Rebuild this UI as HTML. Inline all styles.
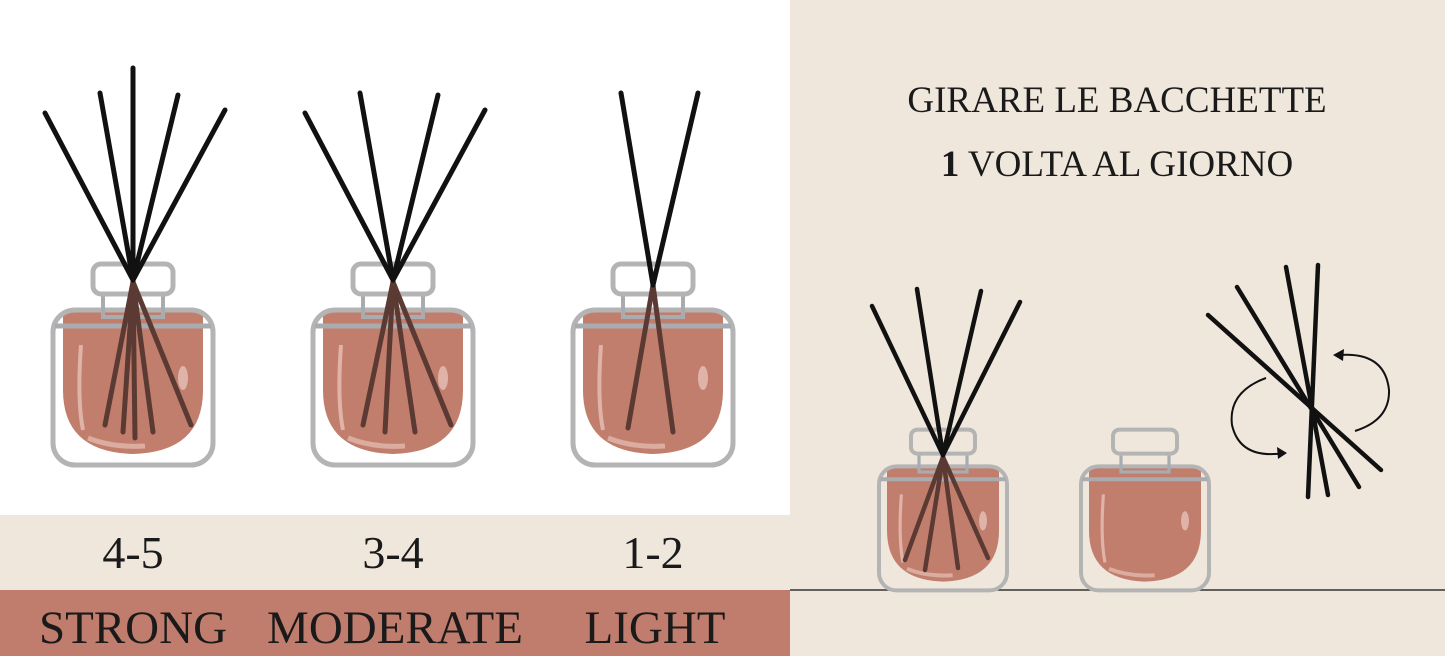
<!DOCTYPE html>
<html><head><meta charset="utf-8"><style>
html,body{margin:0;padding:0;width:1445px;height:656px;overflow:hidden;background:#fff}
svg{display:block}
text{font-family:"Liberation Serif",serif;fill:#1a1a1a}
</style></head><body>
<svg width="1445" height="656" viewBox="0 0 1445 656">
<defs>
<g id="jar">
  <path d="M-70,312 L70,312 L70,390 Q70,452 0,454 Q-70,452 -70,390 Z" fill="#c27e6c"/>
  <path d="M-52,345 Q-56,400 -50,430" stroke="#e6c1b6" stroke-width="4" fill="none" opacity=".8"/>
  <path d="M-45,438 Q-20,448 12,446" stroke="#e6c1b6" stroke-width="5" fill="none" opacity=".7"/>
  <ellipse cx="50" cy="378" rx="5" ry="12" fill="#e6c1b6" opacity=".8"/>
  <rect x="-80" y="310" width="160" height="155" rx="22" fill="none" stroke="#b4b4b4" stroke-width="5"/>
  <line x1="-78" y1="326" x2="78" y2="326" stroke="#a8acb0" stroke-width="5"/>
  <rect x="-30" y="293" width="60" height="24" fill="none" stroke="#a8acb0" stroke-width="4"/>
  <rect x="-40" y="264" width="80" height="30" rx="8" fill="#fff" stroke="#b4b4b4" stroke-width="5"/>
</g>
<g id="jarb">
  <path d="M-70,312 L70,312 L70,390 Q70,452 0,454 Q-70,452 -70,390 Z" fill="#c27e6c"/>
  <path d="M-52,345 Q-56,400 -50,430" stroke="#e6c1b6" stroke-width="4" fill="none" opacity=".8"/>
  <path d="M-45,438 Q-20,448 12,446" stroke="#e6c1b6" stroke-width="5" fill="none" opacity=".7"/>
  <ellipse cx="50" cy="378" rx="5" ry="12" fill="#e6c1b6" opacity=".8"/>
  <rect x="-80" y="310" width="160" height="155" rx="22" fill="none" stroke="#b4b4b4" stroke-width="5"/>
  <line x1="-78" y1="326" x2="78" y2="326" stroke="#a8acb0" stroke-width="5"/>
  <rect x="-30" y="293" width="60" height="24" fill="none" stroke="#a8acb0" stroke-width="4"/>
  <rect x="-40" y="264" width="80" height="30" rx="8" fill="#efe7dc" stroke="#b4b4b4" stroke-width="5"/>
</g>
</defs>
<rect x="0" y="0" width="790" height="515" fill="#fff"/>
<rect x="0" y="515" width="790" height="75" fill="#efe7dc"/>
<rect x="0" y="590" width="790" height="66" fill="#c07c6c"/>
<rect x="790" y="0" width="655" height="656" fill="#efe7dc"/>
<line x1="790" y1="590" x2="1445" y2="590" stroke="#333" stroke-width="1.5"/>

<!-- jar 1 -->
<g transform="translate(133,0)">
  <use href="#jar"/>
  <g stroke="#5a3a33" stroke-width="5" stroke-linecap="round">
    <line x1="0" y1="282" x2="-28" y2="425"/><line x1="0" y1="282" x2="-10" y2="432"/>
    <line x1="0" y1="282" x2="2" y2="438"/><line x1="0" y1="282" x2="20" y2="432"/><line x1="0" y1="282" x2="58" y2="425"/>
  </g>
  <g stroke="#111" stroke-width="5" stroke-linecap="round">
    <line x1="0" y1="280" x2="-88" y2="113"/><line x1="0" y1="280" x2="-33" y2="93"/>
    <line x1="0" y1="280" x2="0" y2="68"/><line x1="0" y1="280" x2="45" y2="95"/><line x1="0" y1="280" x2="92" y2="110"/>
  </g>
</g>
<!-- jar 2 -->
<g transform="translate(393,0)">
  <use href="#jar"/>
  <g stroke="#5a3a33" stroke-width="5" stroke-linecap="round">
    <line x1="0" y1="282" x2="-30" y2="425"/><line x1="0" y1="282" x2="-8" y2="432"/>
    <line x1="0" y1="282" x2="22" y2="432"/><line x1="0" y1="282" x2="58" y2="425"/>
  </g>
  <g stroke="#111" stroke-width="5" stroke-linecap="round">
    <line x1="0" y1="280" x2="-88" y2="113"/><line x1="0" y1="280" x2="-33" y2="93"/>
    <line x1="0" y1="280" x2="45" y2="95"/><line x1="0" y1="280" x2="92" y2="110"/>
  </g>
</g>
<!-- jar 3 -->
<g transform="translate(653,0)">
  <use href="#jar"/>
  <g stroke="#5a3a33" stroke-width="5" stroke-linecap="round">
    <line x1="0" y1="285" x2="-25" y2="428"/><line x1="0" y1="285" x2="20" y2="432"/>
  </g>
  <g stroke="#111" stroke-width="5" stroke-linecap="round">
    <line x1="0" y1="285" x2="-32" y2="93"/><line x1="0" y1="285" x2="45" y2="93"/>
  </g>
</g>
<!-- jar 4 -->
<g transform="translate(943,428) scale(0.8) translate(0,-262)">
  <use href="#jarb"/>
</g>
<g stroke="#5a3a33" stroke-width="4.5" stroke-linecap="round">
  <line x1="943" y1="457" x2="905" y2="560"/><line x1="943" y1="457" x2="925" y2="570"/>
  <line x1="943" y1="457" x2="958" y2="568"/><line x1="943" y1="457" x2="988" y2="558"/>
</g>
<g stroke="#111" stroke-width="4.5" stroke-linecap="round">
  <line x1="943" y1="455" x2="872" y2="306"/><line x1="943" y1="455" x2="917" y2="289"/>
  <line x1="943" y1="455" x2="981" y2="291"/><line x1="943" y1="455" x2="1020" y2="302"/>
</g>
<!-- jar 5 -->
<g transform="translate(1145,428) scale(0.8) translate(0,-262)">
  <use href="#jarb"/>
</g>
<!-- sticks crossing -->
<g stroke="#111" stroke-width="4.5" stroke-linecap="round">
  <line x1="1208" y1="315" x2="1381" y2="470"/>
  <line x1="1237" y1="287" x2="1359" y2="487"/>
  <line x1="1286" y1="267" x2="1328" y2="495"/>
  <line x1="1318" y1="265" x2="1308" y2="497"/>
</g>
<g fill="none" stroke="#111" stroke-width="2">
  <path d="M1266,378 Q1228,392 1232,425 Q1240,460 1285,453"/>
  <path d="M1355,431 Q1390,420 1389,390 Q1385,352 1340,355"/>
</g>
<path d="M1277,447 L1287,453 L1278,459 Z" fill="#111"/>
<path d="M1333,355 L1344,349 L1343,361 Z" fill="#111"/>

<text x="1117" y="112" font-size="37" text-anchor="middle">GIRARE LE BACCHETTE</text>
<text x="1117" y="176" font-size="37" text-anchor="middle"><tspan font-weight="bold">1</tspan> VOLTA AL GIORNO</text>
<text x="133" y="568" font-size="46" text-anchor="middle">4-5</text>
<text x="393" y="568" font-size="46" text-anchor="middle">3-4</text>
<text x="653" y="568" font-size="46" text-anchor="middle">1-2</text>
<text x="133" y="643" font-size="47" text-anchor="middle">STRONG</text>
<text x="395" y="643" font-size="47" text-anchor="middle">MODERATE</text>
<text x="655" y="643" font-size="47" text-anchor="middle">LIGHT</text>
</svg>
</body></html>
